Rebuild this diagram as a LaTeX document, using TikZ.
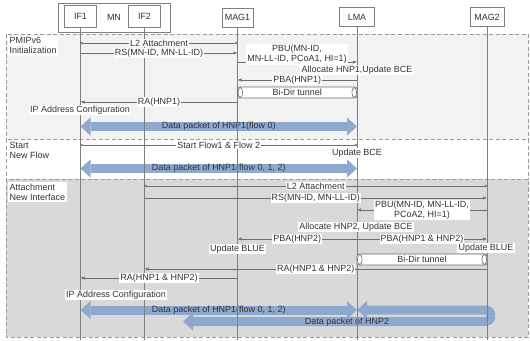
\documentclass[tikz,border=0pt]{standalone}
\usepackage{fontspec}
\setmainfont{Liberation Sans}
\usetikzlibrary{arrows.meta,calc}
\definecolor{linegray}{HTML}{7F7F7F}
\definecolor{msggray}{HTML}{6E6E6E}
\definecolor{dashgray}{HTML}{9A9A9A}
\definecolor{secA}{HTML}{F2F2F2}
\definecolor{secC}{HTML}{D9D9D9}
\definecolor{pktblue}{HTML}{8EA9CE}
\definecolor{txtgray}{HTML}{333333}
\begin{document}
\begin{tikzpicture}[x=1bp,y=-1bp,
  every node/.style={font=\fontsize{9}{10}\selectfont, text=txtgray},
  hdr/.style={draw=linegray, fill=white, line width=0.6bp, inner sep=0pt},
  life/.style={draw=linegray, line width=0.7bp},
  secbox/.style={draw=dashgray, dash pattern=on 4bp off 2.5bp, line width=1bp},
  seclbl/.style={anchor=north west, align=left, inner sep=1.5bp},
  msg/.style={draw=msggray, line width=0.6bp},
  sendarr/.style={msg, -{Latex[length=4bp,width=3.2bp]}},
  linkarr/.style={msg, {Circle[open,length=2.6bp,width=2.6bp]}-{Circle[open,length=2.6bp,width=2.6bp]}},
  lbl/.style={fill=white, inner sep=1bp},
  note/.style={fill=white, inner sep=1.2bp},
  tunnel/.style={draw=msggray, fill=white, line width=0.6bp, rounded corners=2bp},
  tcap/.style={draw=msggray, line width=0.6bp},
  pkt/.style={draw=pktblue, line width=9bp,
    {Triangle[length=10bp,width=18bp,line width=0pt,fill=pktblue]}-{Triangle[length=10bp,width=18bp,line width=0pt,fill=pktblue]}},
]
\useasboundingbox (0,0) rectangle (530,340);

% sections
\draw[secbox, fill=secA] (6,34) rectangle (528,139);
\draw[secbox, fill=white] (6,139) rectangle (528,179);
\draw[secbox, fill=secC] (6,179) rectangle (528,337);

\node[seclbl, fill=white] (s1) at (8,36) {PMIPv6\\Initialization};
\node[seclbl] (s2) at (8,141) {Start\\New Flow};
\node[seclbl, fill=white] (s3) at (8,182) {Attachment\\New Interface};

% header
\node[hdr, minimum width=112bp, minimum height=29bp] (MN) at (114,17.5) {MN};
\node[hdr, minimum width=32bp, minimum height=22bp] (IF1) at (80.5,16) {IF1};
\node[hdr, minimum width=32bp, minimum height=22bp] (IF2) at (144.5,16) {IF2};
\node[hdr, minimum width=31bp, minimum height=19bp] (MAG1) at (237.5,17.5) {MAG1};
\node[hdr, minimum width=35bp, minimum height=19bp] (LMA) at (357,17) {LMA};
\node[hdr, minimum width=34bp, minimum height=19bp] (MAG2) at (487,17) {MAG2};

% data packets
\draw[pkt] (IF1.south |- 0,126.5) -- node{Data packet of HNP1(flow 0)} (LMA.south |- 0,126.5);
\draw[pkt] (IF1.south |- 0,168.5) -- node{Data packet of HNP1(flow 0, 1, 2)} (LMA.south |- 0,168.5);
\draw[pkt] (IF1.south |- 0,310) -- node{Data packet of HNP1(flow 0, 1, 2)} (LMA.south |- 0,310);
\draw[pkt, rounded corners=5.75bp] (LMA.south |- 0,310) -- (491,310) -- (491,321.5) -- (183,321.5);
\node (hnp2) at (347,322) {Data packet of HNP2};

% lifelines
\foreach \n in {IF1,IF2,MAG1,LMA,MAG2}{
  \draw[life] (\n.south) -- (\n.south |- 0,340);
}

% section 1
\draw[linkarr] (IF1.south |- 0,43) -- node[lbl]{L2 Attachment} (MAG1.south |- 0,43);
\draw[sendarr] (IF1.south |- 0,53) -- node[lbl]{RS(MN-ID, MN-LL-ID)} (MAG1.south |- 0,53);
\draw[sendarr] (MAG1.south |- 0,62) -- (LMA.south |- 0,62);
\node[lbl, align=center] (pbu1) at (297,54.5) {PBU(MN-ID,\\MN-LL-ID, PCoA1, HI=1)};
\node[note] (alloc1) at (357,70) {Allocate HNP1,Update BCE};
\draw[sendarr] (LMA.south |- 0,80) -- node[lbl]{PBA(HNP1)} (MAG1.south |- 0,80);
\draw[tunnel] (MAG1.south |- 0,87) rectangle (LMA.south |- 0,98);
\draw[tcap] ($(MAG1.south |- 0,92.5)+(2.8,0)$) ellipse [x radius=2.3bp, y radius=5bp];
\draw[tcap] ($(LMA.south |- 0,92.5)+(-2.8,0)$) ellipse [x radius=2.3bp, y radius=5bp];
\node (t1) at ($(MAG1.south |- 0,92.5)!0.5!(LMA.south |- 0,92.5)$) {Bi-Dir tunnel};
\draw[sendarr] (MAG1.south |- 0,102) -- node[lbl]{RA(HNP1)} (IF1.south |- 0,102);
\node[note] (ipc1) at (80,110) {IP Address Configuration};

% section 2
\draw[linkarr] (IF1.south |- 0,145) -- node[lbl]{Start Flow1 \& Flow 2} (LMA.south |- 0,145);
\node[note] (upd1) at (357,153) {Update BCE};

% section 3
\draw[linkarr] (IF2.south |- 0,186) -- node[lbl]{L2 Attachment} (MAG2.south |- 0,186);
\draw[sendarr] (IF2.south |- 0,198) -- node[lbl]{RS(MN-ID, MN-LL-ID)} (MAG2.south |- 0,198);
\draw[sendarr] (MAG2.south |- 0,210) -- (LMA.south |- 0,210);
\node[lbl, align=center] (pbu2) at (422,210) {PBU(MN-ID, MN-LL-ID,\\PCoA2, HI=1)};
\node[note] (alloc2) at (356,227) {Allocate HNP2, Update BCE};
\draw[sendarr] (LMA.south |- 0,239) -- node[lbl]{PBA(HNP2)} (MAG1.south |- 0,239);
\draw[sendarr] (LMA.south |- 0,239) -- node[lbl]{PBA(HNP1 \& HNP2)} (MAG2.south |- 0,239);
\node[note] (ub1) at (237.5,249) {Update BLUE};
\node[note] (ub2) at (486,248) {Update BLUE};
\draw[tunnel] (LMA.south |- 0,254) rectangle (MAG2.south |- 0,265);
\draw[tcap] ($(LMA.south |- 0,259.5)+(2.8,0)$) ellipse [x radius=2.3bp, y radius=5bp];
\draw[tcap] ($(MAG2.south |- 0,259.5)+(-2.8,0)$) ellipse [x radius=2.3bp, y radius=5bp];
\node (t2) at ($(LMA.south |- 0,259.5)!0.5!(MAG2.south |- 0,259.5)$) {Bi-Dir tunnel};
\draw[sendarr] (MAG2.south |- 0,269) -- node[lbl]{RA(HNP1 \& HNP2)} (IF2.south |- 0,269);
\draw[sendarr] (MAG1.south |- 0,278) -- node[lbl]{RA(HNP1 \& HNP2)} (IF1.south |- 0,278);
\node[note] (ipc2) at (116,295) {IP Address Configuration};
\end{tikzpicture}
\end{document}
